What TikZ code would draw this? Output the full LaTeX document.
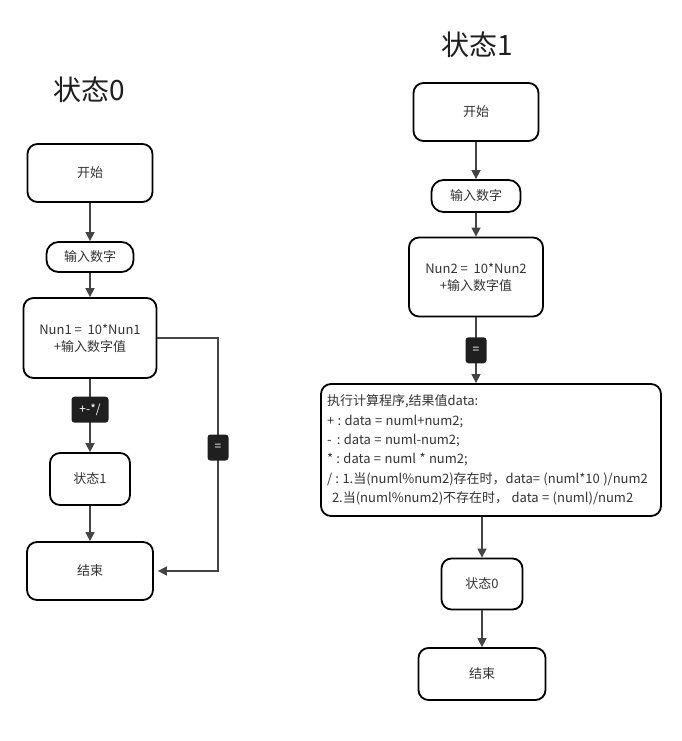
\documentclass[tikz,border=0pt]{standalone}
\usepackage{fontspec}
\setmainfont{Noto Sans CJK SC}
\usetikzlibrary{arrows.meta}
\definecolor{linegray}{HTML}{444444}
\definecolor{textgray}{HTML}{333333}

\begin{document}
\begin{tikzpicture}[x=1pt, y=-1pt,
    box/.style={draw=black, line width=1.8pt, rounded corners=10pt, fill=white,
      text=textgray, font=\fontsize{13}{17}\selectfont, align=center, inner sep=0pt},
    tag/.style={fill=black!88, rounded corners=3pt, text=white,
      font=\fontsize{12}{14}\selectfont, inner sep=0pt, minimum height=26},
    flow/.style={draw=linegray, line width=1.5pt, -{Triangle[length=9pt, width=9pt]}},
    title/.style={font=\fontsize{28}{32}\selectfont, text=black!88}]
    \useasboundingbox (0,0) rectangle (682,741);
    % state 0
    \node [title] (title0) at (89,90) {状态0};
    \node [box, minimum width=125, minimum height=58] (start0) at (90,173) {开始};
    \node [box, rounded corners=12pt, minimum width=87, minimum height=30] (input0) at (90,257) {输入数字};
    \node [box, minimum width=133, minimum height=80] (calc0) at (90,338) {Nun1 =~~10*Nun1\\+输入数字值};
    \node [box, minimum width=80, minimum height=52] (state1) at (90,479) {状态1};
    \node [box, minimum width=126, minimum height=58] (end0) at (90,571) {结束};
    \coordinate (turn0) at (218,338);
    \draw [flow] (start0) -- (input0);
    \draw [flow] (input0) -- (calc0);
    \draw [flow] (calc0) -- node [tag, pos=0.42, minimum width=37] (op0) {+-*/} (state1);
    \draw [flow] (state1) -- (end0);
    \draw [flow, shorten >=4pt] (calc0.east) -- (turn0) |- node [tag, pos=0.235, minimum width=21] (eq0) {=} (end0.east);
    % state 1
    \node [title] (title1) at (477,45) {状态1};
    \node [box, minimum width=125, minimum height=58] (start1) at (476,112) {开始};
    \node [box, rounded corners=12pt, minimum width=89, minimum height=32] (input1) at (476,196) {输入数字};
    \node [box, minimum width=134, minimum height=79] (calc1) at (476,277) {Nun2 =~~10*Nun2\\+输入数字值};
    \node [box, align=left, inner xsep=6, inner ysep=7, text width=328, minimum height=132,
      font=\fontsize{13}{19.3}\selectfont] (run1) at (491,450)
      {\frenchspacing\spaceskip=3.4pt plus 1pt\relax
       执行计算程序,结果值data:\\
       + : data = numl+num2;\\
       -\hspace{2pt} : data = numl-num2;\\
       {*} : data = numl * num2;\\
       / : 1.当(numl\%num2)存在时，data= (numl*10 )/num2\\
       \hspace*{5pt}2.当(numl\%num2)不存在时， data = (numl)/num2};
    \node [box, minimum width=81, minimum height=51] (state0) at (482,584) {状态0};
    \node [box, minimum width=127, minimum height=52] (end1) at (482,674) {结束};
    \draw [flow] (start1) -- (input1);
    \draw [flow] (input1) -- (calc1);
    \draw [flow] (calc1) -- node [tag, minimum width=21] (eq1) {=} (run1.north -| calc1);
    \draw [flow] (run1.south -| state0) -- (state0);
    \draw [flow] (state0) -- (end1);
\end{tikzpicture}
\end{document}
